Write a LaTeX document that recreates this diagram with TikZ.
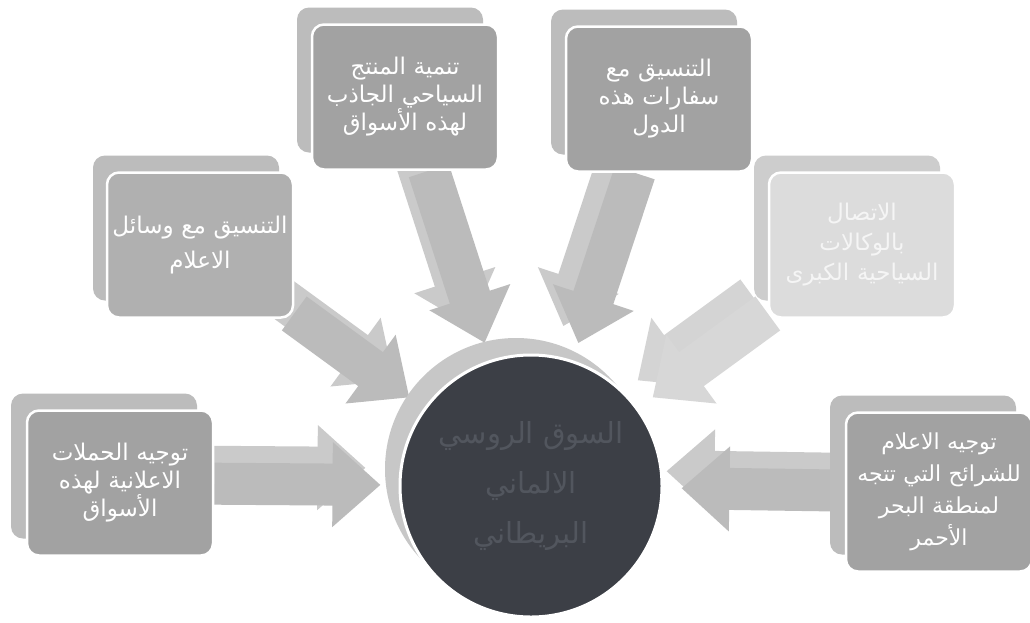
\documentclass[tikz,border=0pt]{standalone}
\usepackage{fontspec}
\newfontfamily\arabicfont[Script=Arabic]{DejaVu Sans}
\TeXXeTstate=1
\usetikzlibrary{arrows.meta, backgrounds}

\definecolor{boxfront}{HTML}{A2A2A2}
\definecolor{boxback}{HTML}{BCBCBC}
\definecolor{paleboxfront}{HTML}{DCDCDC}
\definecolor{paleboxback}{HTML}{CDCDCD}
\definecolor{arrowfront}{HTML}{BBBBBB}
\definecolor{arrowback}{HTML}{CACACA}
\definecolor{palearrow}{HTML}{D4D4D4}
\definecolor{hubfill}{HTML}{3C3F46}
\definecolor{hubring}{HTML}{C7C7C7}
\definecolor{hubtext}{HTML}{52565E}

\newcommand{\arline}[1]{\beginR #1\endR}

\tikzset{
    backbox/.style={rectangle, rounded corners=12pt, minimum width=186pt,
        minimum height=145pt, fill=#1},
    frontbox/.style={rectangle, rounded corners=12pt, minimum width=186pt,
        minimum height=145pt, fill=#1, draw=white, line width=2.5pt,
        text=white, text width=184pt, align=center, inner sep=1pt,
        font=\arabicfont\fontsize{23}{28}\selectfont},
    flow/.style={line width=42pt, draw=#1,
        -{Triangle[length=48pt, width=82pt]}, shorten >=18pt},
    flowback/.style={flow=#1, transform canvas={xshift=-15pt, yshift=17pt}}
}

\begin{document}
\begin{tikzpicture}[x=1pt, y=-1pt]
    \useasboundingbox (0,0) rectangle (1030,622);

    % back boxes
    \node[backbox=boxback] (bl-back) at (104,466) {};
    \node[backbox=boxback] (ml-back) at (186,228) {};
    \node[backbox=boxback] (tl-back) at (390,80) {};
    \node[backbox=boxback] (tr-back) at (644,82) {};
    \node[backbox=paleboxback] (mr-back) at (847,228) {};
    \node[backbox=boxback, minimum height=159pt] (br-back) at (923,475) {};

    % front boxes
    \node[frontbox=boxfront] (bl) at (120,483)
        {\arline{توجيه الحملات}\\ \arline{الاعلانية لهذه}\\ \arline{الأسواق}};
    \node[frontbox=boxfront!85!white, font=\arabicfont\fontsize{23}{35}\selectfont] (ml) at (200,245)
        {\arline{التنسيق مع وسائل}\\ \arline{الاعلام}};
    \node[frontbox=boxfront] (tl) at (405,97)
        {\arline{تنمية المنتج}\\ \arline{السياحي الجاذب}\\ \arline{لهذه الأسواق}};
    \node[frontbox=boxfront] (tr) at (659,99)
        {\arline{التنسيق مع}\\ \arline{سفارات هذه}\\ \arline{الدول}};
    \node[frontbox=paleboxfront, text=white!96!black,
        font=\arabicfont\fontsize{23}{30}\selectfont] (mr) at (862,245)
        {\arline{الاتصال}\\ \arline{بالوكالات}\\ \arline{السياحية الكبرى}};
    \node[frontbox=boxfront, minimum height=159pt,
        font=\arabicfont\fontsize{22}{32}\selectfont] (br) at (939,492)
        {\arline{توجيه الاعلام}\\ \arline{للشرائح التي تتجه}\\ \arline{لمنطقة البحر}\\ \arline{الأحمر}};

    % hub
    \node[circle, minimum size=262pt, inner sep=0pt, fill=hubring] (hub-back) at (516,469) {};
    \node[circle, minimum size=262pt, inner sep=0pt, fill=hubfill, draw=white, line width=3pt,
        text=hubtext, align=center, font=\arabicfont\fontsize{29}{50}\selectfont] (hub) at (531,486)
        {\arline{السوق الروسي}\\ \arline{الالماني}\\ \arline{البريطاني}};

    % arrows
    \begin{scope}[on background layer]
        \fill[white] (0,0) rectangle (1030,622);
        \draw[flowback=arrowback] (bl) -- (hub);
        \draw[flowback=arrowback] (ml) -- (hub);
        \draw[flowback=arrowback] (tl) -- (hub);
        \draw[flowback=arrowback] (tr) -- (hub);
        \draw[flowback=palearrow] (mr) -- (hub);
        \draw[flowback=arrowback] (br) -- (hub);
        \draw[flow=arrowfront] (bl) -- (hub);
        \draw[flow=arrowfront] (ml) -- (hub);
        \draw[flow=arrowfront] (tl) -- (hub);
        \draw[flow=arrowfront] (tr) -- (hub);
        \draw[flow=palearrow!92!white] (mr) -- (hub);
        \draw[flow=arrowfront] (br) -- (hub);
    \end{scope}
\end{tikzpicture}
\end{document}
